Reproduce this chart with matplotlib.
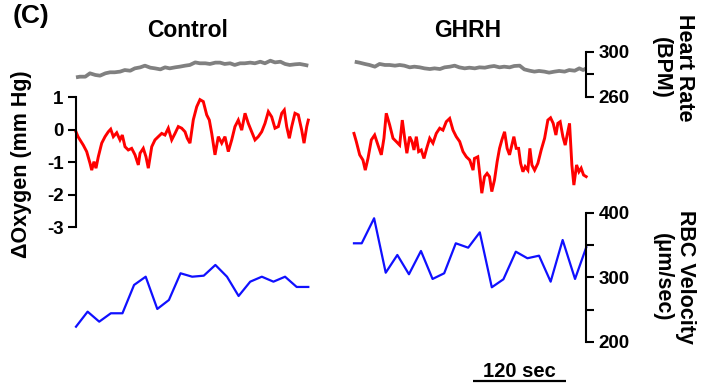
import matplotlib
matplotlib.use("Agg")
import matplotlib.pyplot as plt
import numpy as np
from matplotlib.transforms import blended_transform_factory

# ---------------- data ----------------
# Heart rate (BPM), time in seconds within each 300 s segment
hr_ctrl_t = [0, 5, 12, 18, 25, 31, 38, 44, 50, 57, 63, 70, 76, 83, 89, 96, 102, 109, 115, 121,
             128, 134, 141, 147, 154, 160, 167, 173, 180, 186, 192, 199, 205, 212, 218, 225, 231,
             238, 244, 251, 257, 264, 270, 276, 283, 289, 296, 300]
hr_ctrl = [277.2, 277.8, 277.8, 280.8, 279.3, 278.7, 280.8, 281.7, 281.7, 282.3, 283.7, 283.1,
           285.2, 286.1, 287.6, 285.8, 285.2, 284.3, 286.1, 285.2, 286.1, 286.7, 287.6, 288.2,
           290.5, 289.7, 289.7, 289.1, 290.3, 290.3, 289.1, 289.7, 288.2, 289.7, 289.7, 290.3,
           289.7, 291.1, 289.7, 292.0, 290.5, 291.1, 289.1, 288.2, 288.8, 289.1, 288.2, 287.6]
hr_ghrh_t = [1, 7, 14, 20, 27, 33, 40, 46, 53, 59, 65, 72, 78, 85, 91, 98, 104, 111, 117, 124,
             130, 136, 143, 149, 156, 162, 169, 175, 181, 188, 194, 201, 207, 214, 220, 227, 233,
             239, 246, 252, 259, 265, 272, 278, 285, 291, 296, 300]
hr_ghrh = [291.1, 290.3, 289.1, 288.2, 286.7, 289.1, 288.2, 288.2, 287.6, 288.2, 287.6, 286.1,
           286.7, 286.1, 285.2, 284.6, 285.2, 284.6, 286.1, 286.7, 287.6, 286.1, 285.2, 285.8,
           285.2, 286.1, 285.8, 286.7, 287.3, 286.1, 286.7, 286.1, 287.3, 287.6, 284.3, 283.1,
           282.3, 282.9, 282.3, 281.4, 282.3, 282.9, 282.3, 283.7, 283.1, 285.2, 283.7, 285.2]

# Delta oxygen (mm Hg)
o2_ctrl_t = [0, 2.6, 5.2, 9.4, 13.8, 18.1, 20.3, 23.2, 25.8, 28.8, 33.2, 37.5, 41.7, 44.8, 48.2,
             52.6, 56.8, 59.8, 63.3, 67.5, 71.9, 76.2, 80.5, 82.7, 86.9, 90.4, 93.4, 97.8, 102,
             106.3, 110.7, 114.9, 119.2, 123.6, 127.9, 132.1, 136.5, 140.8, 143.7, 147.2, 151.5,
             155.9, 160.1, 164.4, 168.8, 172.2, 175.3, 179.5, 183.8, 188.2, 192.4, 196.7, 201.1,
             205.3, 209.6, 214, 218.3, 222.5, 226.9, 231.2, 235.4, 239.8, 244.1, 248.4, 252.7,
             257, 261.3, 265.7, 269, 272.1, 275.5, 278.6, 282.8, 287.1, 291.5, 294.5, 298, 300]
o2_ctrl = [-0.07, -0.22, -0.32, -0.48, -0.68, -1.04, -1.25, -0.99, -1.19, -0.84, -0.42, -0.22,
           -0.07, 0.01, -0.22, -0.10, -0.32, -0.17, -0.53, -0.63, -0.58, -0.78, -1.09, -0.73,
           -0.58, -0.84, -1.19, -0.53, -0.32, -0.22, -0.12, -0.17, 0.04, -0.32, -0.12, 0.09,
           0.04, -0.07, -0.27, -0.42, 0.30, 0.70, 0.92, 0.86, 0.45, 0.29, -0.12, -0.78, -0.22,
           -0.42, -0.22, -0.68, -0.32, 0.09, 0.29, -0.02, 0.50, 0.19, -0.07, -0.32, -0.22,
           -0.07, 0.19, 0.55, 0.39, 0.04, 0.09, 0.50, 0.60, 0.09, -0.27, 0.09, 0.50, 0.45,
           -0.02, -0.42, 0.09, 0.29]
o2_ghrh_t = [0, 3, 7.4, 11.6, 14.6, 18.1, 22.4, 26.7, 31, 35.3, 38.7, 41.7, 46.1, 50.4, 54.6, 59,
             62.4, 65.5, 68.3, 71.9, 74.9, 77.5, 80.5, 83.5, 86.9, 90.4, 93.9, 97.8, 102, 106.3,
             110.7, 114.9, 119.2, 123.6, 127.9, 132.1, 136.5, 140.8, 145.1, 149.5, 153.8, 155.6,
             159.9, 162.1, 165.1, 168.6, 171.9, 175, 178, 181.5, 184.9, 188, 191, 194.5, 197.8,
             200.9, 203.9, 206.5, 209.5, 212.6, 215.2, 218.2, 221.1, 224.6, 227.2, 229.8, 233.3,
             237.5, 241.8, 246.2, 250.4, 253.9, 257.3, 260.8, 263.3, 266.3, 269.8, 272.8, 275.3,
             278.4, 281.4, 284, 287.5, 290.5, 293.4, 296.5, 299.9]
o2_ghrh = [-0.12, -0.37, -0.78, -0.94, -1.25, -0.89, -0.32, -0.17, -0.48, -0.78, -0.27, 0.50,
           0.14, -0.27, -0.37, -0.48, 0.29, -0.27, -0.73, -0.22, -0.37, -0.63, -0.22, -0.68,
           -0.63, -0.89, -0.58, -0.27, -0.42, -0.12, 0.04, -0.02, 0.24, 0.34, -0.02, -0.22,
           -0.37, -0.68, -0.84, -0.94, -1.25, -0.89, -0.84, -1.30, -1.96, -1.45, -1.35, -1.45,
           -1.91, -1.55, -0.99, -0.58, -0.32, -0.07, -0.58, -0.78, -0.48, -0.22, -0.58, -0.58,
           -1.04, -1.30, -1.14, -1.25, -0.58, -1.09, -1.25, -1.04, -0.63, -0.27, 0.29, 0.36,
           0.19, -0.17, 0.19, 0.24, -0.22, -0.48, -0.17, 0.19, -1.09, -1.71, -1.09, -1.30,
           -1.19, -1.40, -1.45]

# RBC velocity (um/sec)
rbc_ctrl_t = [0, 15, 30, 45, 60, 75, 90, 105, 120, 135, 150, 165, 180, 195, 210, 225, 240, 255,
              270, 285, 300]
rbc_ctrl = [223.7, 247, 231.5, 244.5, 244.5, 288.4, 301.2, 251.2, 265.1, 306.5, 301.2, 302.8,
            319.4, 301.2, 271.3, 293.5, 301.2, 293.5, 301.2, 285.3, 285.3]
rbc_ghrh_t = [0, 10, 26, 41, 56, 71, 86.5, 101.5, 116.5, 131.5, 147.5, 162.5, 178, 193, 209,
              224, 239, 254, 269.5, 285.5, 300]
rbc_ghrh = [353, 353, 391.8, 307.4, 334.9, 305, 341.1, 297.7, 306.5, 353, 346.2, 370, 284.8,
            297.2, 340, 329.8, 333.8, 293.5, 358.1, 297.7, 346.8]

conditions = ["Control", "GHRH"]
o2_ticks = [-3, -2, -1, 0, 1]
o2_ticklabels = ["-3", "-2", "-1", "0", "1"]
hr_ticks = [260, 280, 300]
hr_ticklabels = ["260", "", "300"]
rbc_ticks = [200, 250, 300, 350, 400]
rbc_ticklabels = ["200", "", "300", "", "400"]
scale_bar_s = 120

# ---------------- layout ----------------
FONT = ["Liberation Sans", "DejaVu Sans"]
plt.rcParams["font.family"] = FONT
plt.rcParams["font.weight"] = "bold"

W, H = 712, 387
fig = plt.figure(figsize=(W / 100, H / 100), dpi=100)

PX_PER_S = 0.7743
X0_PX = 76
GHRH_OFFSET = 359.0
xlim = (-X0_PX / PX_PER_S, (W - X0_PX) / PX_PER_S)
RIGHT_AXIS_T = GHRH_OFFSET + 300


def make_ax(ylim):
    ax = fig.add_axes([0, 0, 1, 1])
    ax.set_xlim(xlim)
    ax.set_ylim(ylim)
    ax.patch.set_alpha(0)
    for s in ax.spines.values():
        s.set_visible(False)
    ax.set_xticks([])
    return ax


ax_o = make_ax((-7.923, 3.985))
ax_h = make_ax((1.96, 345.96))
ax_r = make_ax((130.2, 730.2))

gray = "#808080"
red = "#ff0000"
blue = "#1010ff"

ax_h.plot(hr_ctrl_t, hr_ctrl, color=gray, lw=2.7, solid_capstyle="butt")
ax_h.plot(np.array(hr_ghrh_t) + GHRH_OFFSET, hr_ghrh, color=gray, lw=2.7, solid_capstyle="butt")
ax_o.plot(o2_ctrl_t, o2_ctrl, color=red, lw=2.1, solid_joinstyle="miter")
ax_o.plot(np.array(o2_ghrh_t) + GHRH_OFFSET, o2_ghrh, color=red, lw=2.1,
          solid_joinstyle="miter")
ax_r.plot(rbc_ctrl_t, rbc_ctrl, color=blue, lw=1.6)
ax_r.plot(np.array(rbc_ghrh_t) + GHRH_OFFSET, rbc_ghrh, color=blue, lw=1.6)

tick_kw = dict(direction="out", length=6, width=1.5, labelsize=13.5, pad=3)

# Oxygen axis (left)
sp = ax_o.spines["left"]
sp.set_visible(True)
sp.set_position(("data", 0))
sp.set_bounds(-3, 1)
sp.set_linewidth(1.5)
ax_o.yaxis.set_ticks_position("left")
ax_o.set_yticks(o2_ticks)
ax_o.set_yticklabels(o2_ticklabels, fontweight="bold")
ax_o.tick_params(axis="y", **tick_kw)

# Heart rate and RBC velocity axes (right)
for ax, bounds, ticks, labels in [(ax_h, (260, 300), hr_ticks, hr_ticklabels),
                                  (ax_r, (200, 400), rbc_ticks, rbc_ticklabels)]:
    sp = ax.spines["right"]
    sp.set_visible(True)
    sp.set_position(("data", RIGHT_AXIS_T))
    sp.set_bounds(*bounds)
    sp.set_linewidth(1.5)
    ax.yaxis.set_ticks_position("right")
    ax.set_yticks(ticks)
    ax.set_yticklabels(labels, fontweight="bold")
    ax.tick_params(axis="y", **tick_kw)

for ax in (ax_h, ax_r):
    ax.tick_params(axis="y", left=False, labelleft=False)
ax_o.tick_params(axis="y", right=False, labelright=False)

# Scale bar
SB_START = 512.7
trans = blended_transform_factory(ax_o.transData, ax_o.transAxes)
ax_o.plot([SB_START, SB_START + scale_bar_s], [0.0155, 0.0155], transform=trans,
          color="black", lw=1.6, clip_on=False, solid_capstyle="butt")
ax_o.text(SB_START + scale_bar_s / 2, 0.026, f"{scale_bar_s} sec", transform=trans,
          ha="center", va="baseline", fontsize=14.5, fontweight="bold")

# Texts
fig.text(13 / W, 1 - 4 / H, "(C)", ha="left", va="top", fontsize=19, fontweight="bold")
fig.text(188 / W, 1 - 37 / H, conditions[0], ha="center", va="baseline", fontsize=16.5,
         fontweight="bold")
fig.text(468 / W, 1 - 37 / H, conditions[1], ha="center", va="baseline", fontsize=16.5,
         fontweight="bold")
fig.text(673 / W, 1 - 68 / H, "Heart Rate\n(BPM)", ha="center", va="center", rotation=-90,
         multialignment="center", fontsize=15.5, fontweight="bold", linespacing=1.15)
fig.text(674 / W, 1 - 277 / H, "RBC Velocity\n(\u03bcm/sec)", ha="center", va="center",
         rotation=-90, multialignment="center", fontsize=15.5, fontweight="bold",
         linespacing=1.15)
fig.text(22 / W, 1 - 164 / H, "\u0394Oxygen (mm Hg)", ha="center", va="center", rotation=90,
         fontsize=15.5, fontweight="bold")

fig.savefig("out.png", dpi=100)
